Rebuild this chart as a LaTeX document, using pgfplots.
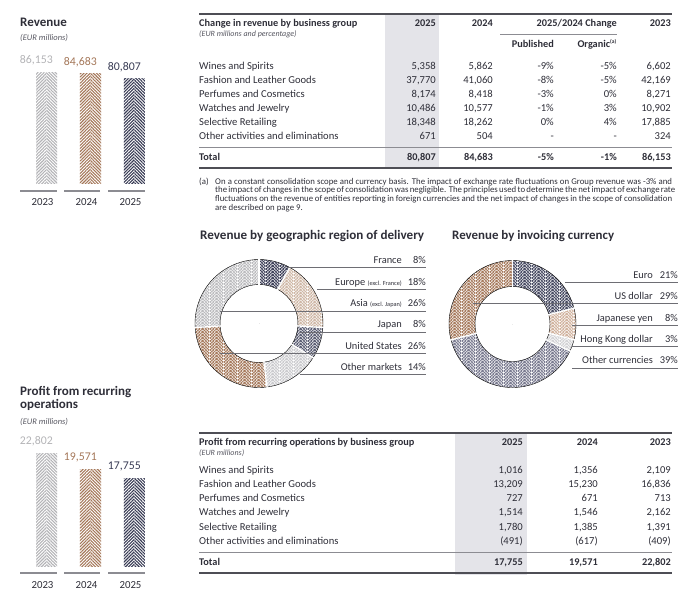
\documentclass[border=0pt]{standalone}
\usepackage{fontspec}
\setmainfont{Carlito}
\usepackage{pgfplots}
\pgfplotsset{compat=1.18}
\usepackage{pgfplotstable}
\usetikzlibrary{patterns,patterns.meta}

\definecolor{txt}{HTML}{2E2E38}
\definecolor{subc}{HTML}{55555F}
\definecolor{cA}{HTML}{B3B3B6}
\definecolor{cB}{HTML}{A47759}
\definecolor{cC}{HTML}{383B54}
\definecolor{bandc}{HTML}{E4E4E9}
\definecolor{rulec}{HTML}{4E4E55}
\definecolor{lightrule}{HTML}{8C8C92}
\definecolor{leadc}{HTML}{6E6E74}
% donut colours: geographic 0-5, currency 6-10
\definecolor{dc0}{HTML}{383B54}
\definecolor{dc1}{HTML}{CDB5A3}
\definecolor{dc2}{HTML}{55586E}
\definecolor{dc3}{HTML}{C9C9CC}
\definecolor{dc4}{HTML}{A47759}
\definecolor{dc5}{HTML}{B9B9BC}
\definecolor{dc6}{HTML}{42455E}
\definecolor{dc7}{HTML}{CFB09B}
\definecolor{dc8}{HTML}{D0D0D3}
\definecolor{dc9}{HTML}{75768C}
\definecolor{dc10}{HTML}{A47759}

\pgfdeclarepatternformonly{herring}{\pgfpoint{0pt}{0pt}}{\pgfpoint{14pt}{3pt}}{\pgfpoint{14pt}{3pt}}{%
  \pgfsetlinewidth{1.1pt}%
  \pgfpathmoveto{\pgfpoint{0pt}{-9pt}}\pgfpathlineto{\pgfpoint{7pt}{-2pt}}\pgfpathlineto{\pgfpoint{14pt}{-9pt}}%
  \pgfpathmoveto{\pgfpoint{0pt}{-6pt}}\pgfpathlineto{\pgfpoint{7pt}{1pt}}\pgfpathlineto{\pgfpoint{14pt}{-6pt}}%
  \pgfpathmoveto{\pgfpoint{0pt}{-3pt}}\pgfpathlineto{\pgfpoint{7pt}{4pt}}\pgfpathlineto{\pgfpoint{14pt}{-3pt}}%
  \pgfpathmoveto{\pgfpoint{0pt}{0pt}}\pgfpathlineto{\pgfpoint{7pt}{7pt}}\pgfpathlineto{\pgfpoint{14pt}{0pt}}%
  \pgfpathmoveto{\pgfpoint{0pt}{3pt}}\pgfpathlineto{\pgfpoint{7pt}{10pt}}\pgfpathlineto{\pgfpoint{14pt}{3pt}}%
  \pgfusepath{stroke}}

% segment: share in %, cumulative start in %, colour index
\pgfplotstableread{
pct start idx
8  0  0
18 8  1
8  26 2
14 34 3
26 48 4
26 74 5
}\geodata
\pgfplotstableread{
pct start idx
21 0  6
8  21 7
3  29 8
39 32 9
29 71 10
}\curdata

\pgfplotsset{
  barax/.style={anchor=south west, scale only axis, width=132pt,
    xmin=-0.5, xmax=2.5, ymin=0, enlargelimits=false, clip=false,
    axis line style={draw=none}, major tick length=0pt, ytick=\empty,
    xtick={0,1,2}, xticklabels={2023,2024,2025},
    xticklabel style={anchor=mid east, xshift=10.5pt, yshift=-20pt,
      font=\fontsize{10.8}{12}\selectfont, text=txt},
    /pgf/number format/fixed, /pgf/number format/precision=0,
    /pgf/number format/1000 sep={,},
    /pgf/number format/assume math mode=true},
  lefthalf/.style={ybar, bar width=10.5pt, bar shift=-5.25pt, draw=none,
    pattern={Lines[angle=45,distance=2.2pt,line width=1.1pt]}, pattern color=#1},
  righthalf/.style={ybar, bar width=10.5pt, bar shift=5.25pt, draw=none,
    pattern={Lines[angle=-45,distance=2.2pt,line width=1.1pt]}, pattern color=#1,
    nodes near coords,
    every node near coord/.append style={anchor=south east, xshift=6.5pt,
      yshift=6.5pt, inner sep=0pt, font=\fontsize{11.8}{14}\selectfont, text=#1}},
  donutax/.style={anchor=center, hide axis, scale only axis, width=128pt,
    height=128pt, xmin=-1, xmax=1, ymin=-1, ymax=1, clip=false},
  donutplot/.style={scatter, only marks, mark=*, mark size=0pt,
    point meta=\thisrow{pct},
    visualization depends on={\thisrow{start}\as\segstart},
    visualization depends on={\thisrow{pct}\as\segpct},
    visualization depends on={\thisrow{idx}\as\segidx},
    scatter/@pre marker code/.code={%
      \pgfmathsetmacro\aone{90-3.6*\segstart}%
      \pgfmathsetmacro\atwo{90-3.6*(\segstart+\segpct)}%
      \pgfmathtruncatemacro\ci{\segidx}%
      \fill[pattern=herring, pattern color=dc\ci]
        (\aone:\rout) arc[start angle=\aone, end angle=\atwo, radius=\rout]
        -- (\atwo:\rin) arc[start angle=\atwo, end angle=\aone, radius=\rin] -- cycle;
      \draw[white, line width=1.3pt] (\aone:\rin-1pt) -- (\aone:\rout+1pt);
      \draw[white, line width=1.3pt] (\atwo:\rin-1pt) -- (\atwo:\rout+1pt);
    },
    scatter/@post marker code/.code={}},
}

\newcommand{\lt}[3]{\node[anchor=mid west, inner sep=0pt, text=txt] at (#1,#2) {#3};}
\newcommand{\rt}[3]{\node[anchor=mid east, inner sep=0pt, text=txt] at (#1,#2) {#3};}
\newcommand{\hb}{\bfseries\fontsize{10.3}{12}\selectfont}
\newcommand{\revrow}[7]{\lt{199}{#1}{#2}\rt{436}{#1}{#3}\rt{493}{#1}{#4}\rt{554}{#1}{#5}\rt{617}{#1}{#6}\rt{671}{#1}{#7}}
\newcommand{\profrow}[5]{\lt{199}{#1}{#2}\rt{523}{#1}{#3}\rt{598}{#1}{#4}\rt{671}{#1}{#5}}
\newcommand{\sm}[1]{{\fontsize{6.3}{7}\selectfont #1}}
\newcommand{\fl}[1]{\makebox[457pt][s]{#1}}

\begin{document}
\begin{tikzpicture}[x=1pt, y=-1pt, font=\fontsize{10.6}{12}\selectfont]
\path[use as bounding box] (0,0) rectangle (700,602);

% ---------- grey bands of the tables ----------
\fill[bandc] (385,14) rectangle (439,168);
\fill[bandc] (455,433) rectangle (527,575);

% ---------- revenue bars ----------
\begin{axis}[barax, at={(24.5pt,-183pt)}, height=128.84pt, ymax=100000]
\addplot[lefthalf=cA] coordinates {(0,86153)};
\addplot[righthalf=cA] coordinates {(0,86153)};
\addplot[lefthalf=cB] coordinates {(1,84683)};
\addplot[righthalf=cB] coordinates {(1,84683)};
\addplot[lefthalf=cC] coordinates {(2,80807)};
\addplot[righthalf=cC] coordinates {(2,80807)};
\end{axis}

% ---------- profit bars ----------
\begin{axis}[barax, at={(24.5pt,-566pt)}, height=123.9pt, ymax=25000]
\addplot[lefthalf=cA] coordinates {(0,22802)};
\addplot[righthalf=cA] coordinates {(0,22802)};
\addplot[lefthalf=cB] coordinates {(1,19571)};
\addplot[righthalf=cB] coordinates {(1,19571)};
\addplot[lefthalf=cC] coordinates {(2,17755)};
\addplot[righthalf=cC] coordinates {(2,17755)};
\end{axis}

% ---------- donuts ----------
\def\rout{64pt}\def\rin{39pt}
\begin{axis}[donutax, at={(259pt,-323.5pt)}]
\addplot[donutplot] table[x expr=0, y expr=0] {\geodata};
\end{axis}
\def\rout{63.5pt}\def\rin{37.5pt}
\begin{axis}[donutax, at={(512.5pt,-324pt)}]
\addplot[donutplot] table[x expr=0, y expr=0] {\curdata};
\end{axis}

% ---------- bar underlines ----------
\foreach \yy in {191,573} {
  \draw[lightrule, line width=1.2pt] (20,\yy) -- (57,\yy);
  \draw[lightrule, line width=1.2pt] (64,\yy) -- (100,\yy);
  \draw[lightrule, line width=1.2pt] (108,\yy) -- (145,\yy);
}

% ---------- left titles ----------
\lt{20}{24}{\bfseries\fontsize{13}{15}\selectfont Revenue}
\node[anchor=mid west, inner sep=0pt, text=subc] at (20,38) {\itshape\fontsize{8.5}{9}\selectfont (EUR millions)};
\lt{20}{393}{\bfseries\fontsize{13}{15}\selectfont Profit from recurring}
\lt{20}{406.5}{\bfseries\fontsize{13}{15}\selectfont operations}
\node[anchor=mid west, inner sep=0pt, text=subc] at (20,422) {\itshape\fontsize{8.5}{9}\selectfont (EUR millions)};

% ---------- revenue table ----------
\draw[rulec, line width=1.5pt] (199,14) -- (672,14);
\lt{199}{24}{\hb Change in revenue by business group}
\node[anchor=mid west, inner sep=0pt, text=subc] at (199,34.5) {\itshape\fontsize{8}{9}\selectfont (EUR millions and percentage)};
\rt{436}{24}{\hb 2025}
\rt{493}{24}{\hb 2024}
\rt{617}{24}{\hb 2025/2024 Change}
\rt{671}{24}{\hb 2023}
\draw[lightrule, line width=0.7pt] (500,34) -- (617,34);
\rt{554}{45}{\hb Published}
\rt{617}{45}{\hb Organic\textsuperscript{\fontsize{5.5}{6}\selectfont (a)}}
\revrow{67}{Wines and Spirits}{5,358}{5,862}{-9\%}{-5\%}{6,602}
\revrow{81}{Fashion and Leather Goods}{37,770}{41,060}{-8\%}{-5\%}{42,169}
\revrow{95}{Perfumes and Cosmetics}{8,174}{8,418}{-3\%}{0\%}{8,271}
\revrow{109}{Watches and Jewelry}{10,486}{10,577}{-1\%}{3\%}{10,902}
\revrow{123}{Selective Retailing}{18,348}{18,262}{0\%}{4\%}{17,885}
\revrow{137}{Other activities and eliminations}{671}{504}{-}{-}{324}
\draw[lightrule, line width=0.8pt] (199,147) -- (672,147);
\revrow{158}{\hb Total}{\hb 80,807}{\hb 84,683}{\hb -5\%}{\hb -1\%}{\hb 86,153}
\draw[rulec, line width=1.2pt] (199,168) -- (672,168);

% footnote
\node[anchor=mid west, inner sep=0pt, text=txt, font=\fontsize{8.8}{7.35}\selectfont] at (199,182) {(a)};
\node[anchor=north west, inner sep=0pt, text=txt, align=left, font=\fontsize{8.8}{7.35}\selectfont] at (215,178.0) {%
\fl{On a constant consolidation scope and currency basis. The impact of exchange rate fluctuations on Group revenue was -3\% and}\\
\fl{the impact of changes in the scope of consolidation was negligible. The principles used to determine the net impact of exchange rate}\\
\fl{fluctuations on the revenue of entities reporting in foreign currencies and the net impact of changes in the scope of consolidation}\\
are described on page 9.};

% ---------- donut titles, labels and leader lines ----------
\lt{200}{237}{\bfseries\fontsize{13.1}{14}\selectfont Revenue by geographic region of delivery}
\lt{452}{237}{\bfseries\fontsize{12.9}{14}\selectfont Revenue by invoicing currency}

\begin{scope}[leadc, line width=0.8pt]
\draw (287,267) -- (426,267);
\draw (317,289) -- (426,289);
\draw (220,311) -- (426,311);
\draw (300,332) -- (426,332);
\draw (220,353) -- (426,353);
\draw (300,374) -- (426,374);
\draw (565,282) -- (678,282);
\draw (473,303) -- (678,303);
\draw (572,325) -- (678,325);
\draw (572,346) -- (678,346);
\draw (572,368) -- (678,368);
\end{scope}

\begin{scope}[font=\fontsize{10.4}{12}\selectfont]
\rt{402}{261}{France}\rt{426}{261}{8\%}
\rt{402}{283}{Europe \sm{(excl. France)}}\rt{426}{283}{18\%}
\rt{402}{304}{Asia \sm{(excl. Japan)}}\rt{426}{304}{26\%}
\rt{402}{325}{Japan}\rt{426}{325}{8\%}
\rt{402}{347}{United States}\rt{426}{347}{26\%}
\rt{402}{368}{Other markets}\rt{426}{368}{14\%}
\rt{653}{276}{Euro}\rt{678}{276}{21\%}
\rt{653}{297}{US dollar}\rt{678}{297}{29\%}
\rt{653}{319}{Japanese yen}\rt{678}{319}{8\%}
\rt{653}{340}{Hong Kong dollar}\rt{678}{340}{3\%}
\rt{653}{361}{Other currencies}\rt{678}{361}{39\%}
\end{scope}

% ---------- profit table ----------
\draw[rulec, line width=1.5pt] (199,433) -- (672,433);
\lt{199}{443}{\hb Profit from recurring operations by business group}
\node[anchor=mid west, inner sep=0pt, text=subc] at (199,453.5) {\itshape\fontsize{8}{9}\selectfont (EUR millions)};
\rt{523}{443}{\hb 2025}
\rt{598}{443}{\hb 2024}
\rt{671}{443}{\hb 2023}
\profrow{471}{Wines and Spirits}{1,016}{1,356}{2,109}
\profrow{485}{Fashion and Leather Goods}{13,209}{15,230}{16,836}
\profrow{499}{Perfumes and Cosmetics}{727}{671}{713}
\profrow{513}{Watches and Jewelry}{1,514}{1,546}{2,162}
\profrow{528}{Selective Retailing}{1,780}{1,385}{1,391}
\profrow{542}{Other activities and eliminations}{(491)}{(617)}{(409)}
\draw[lightrule, line width=0.8pt] (199,552) -- (672,552);
\profrow{563}{\hb Total}{\hb 17,755}{\hb 19,571}{\hb 22,802}
\draw[rulec, line width=1.2pt] (199,573) -- (672,573);
\end{tikzpicture}
\end{document}
